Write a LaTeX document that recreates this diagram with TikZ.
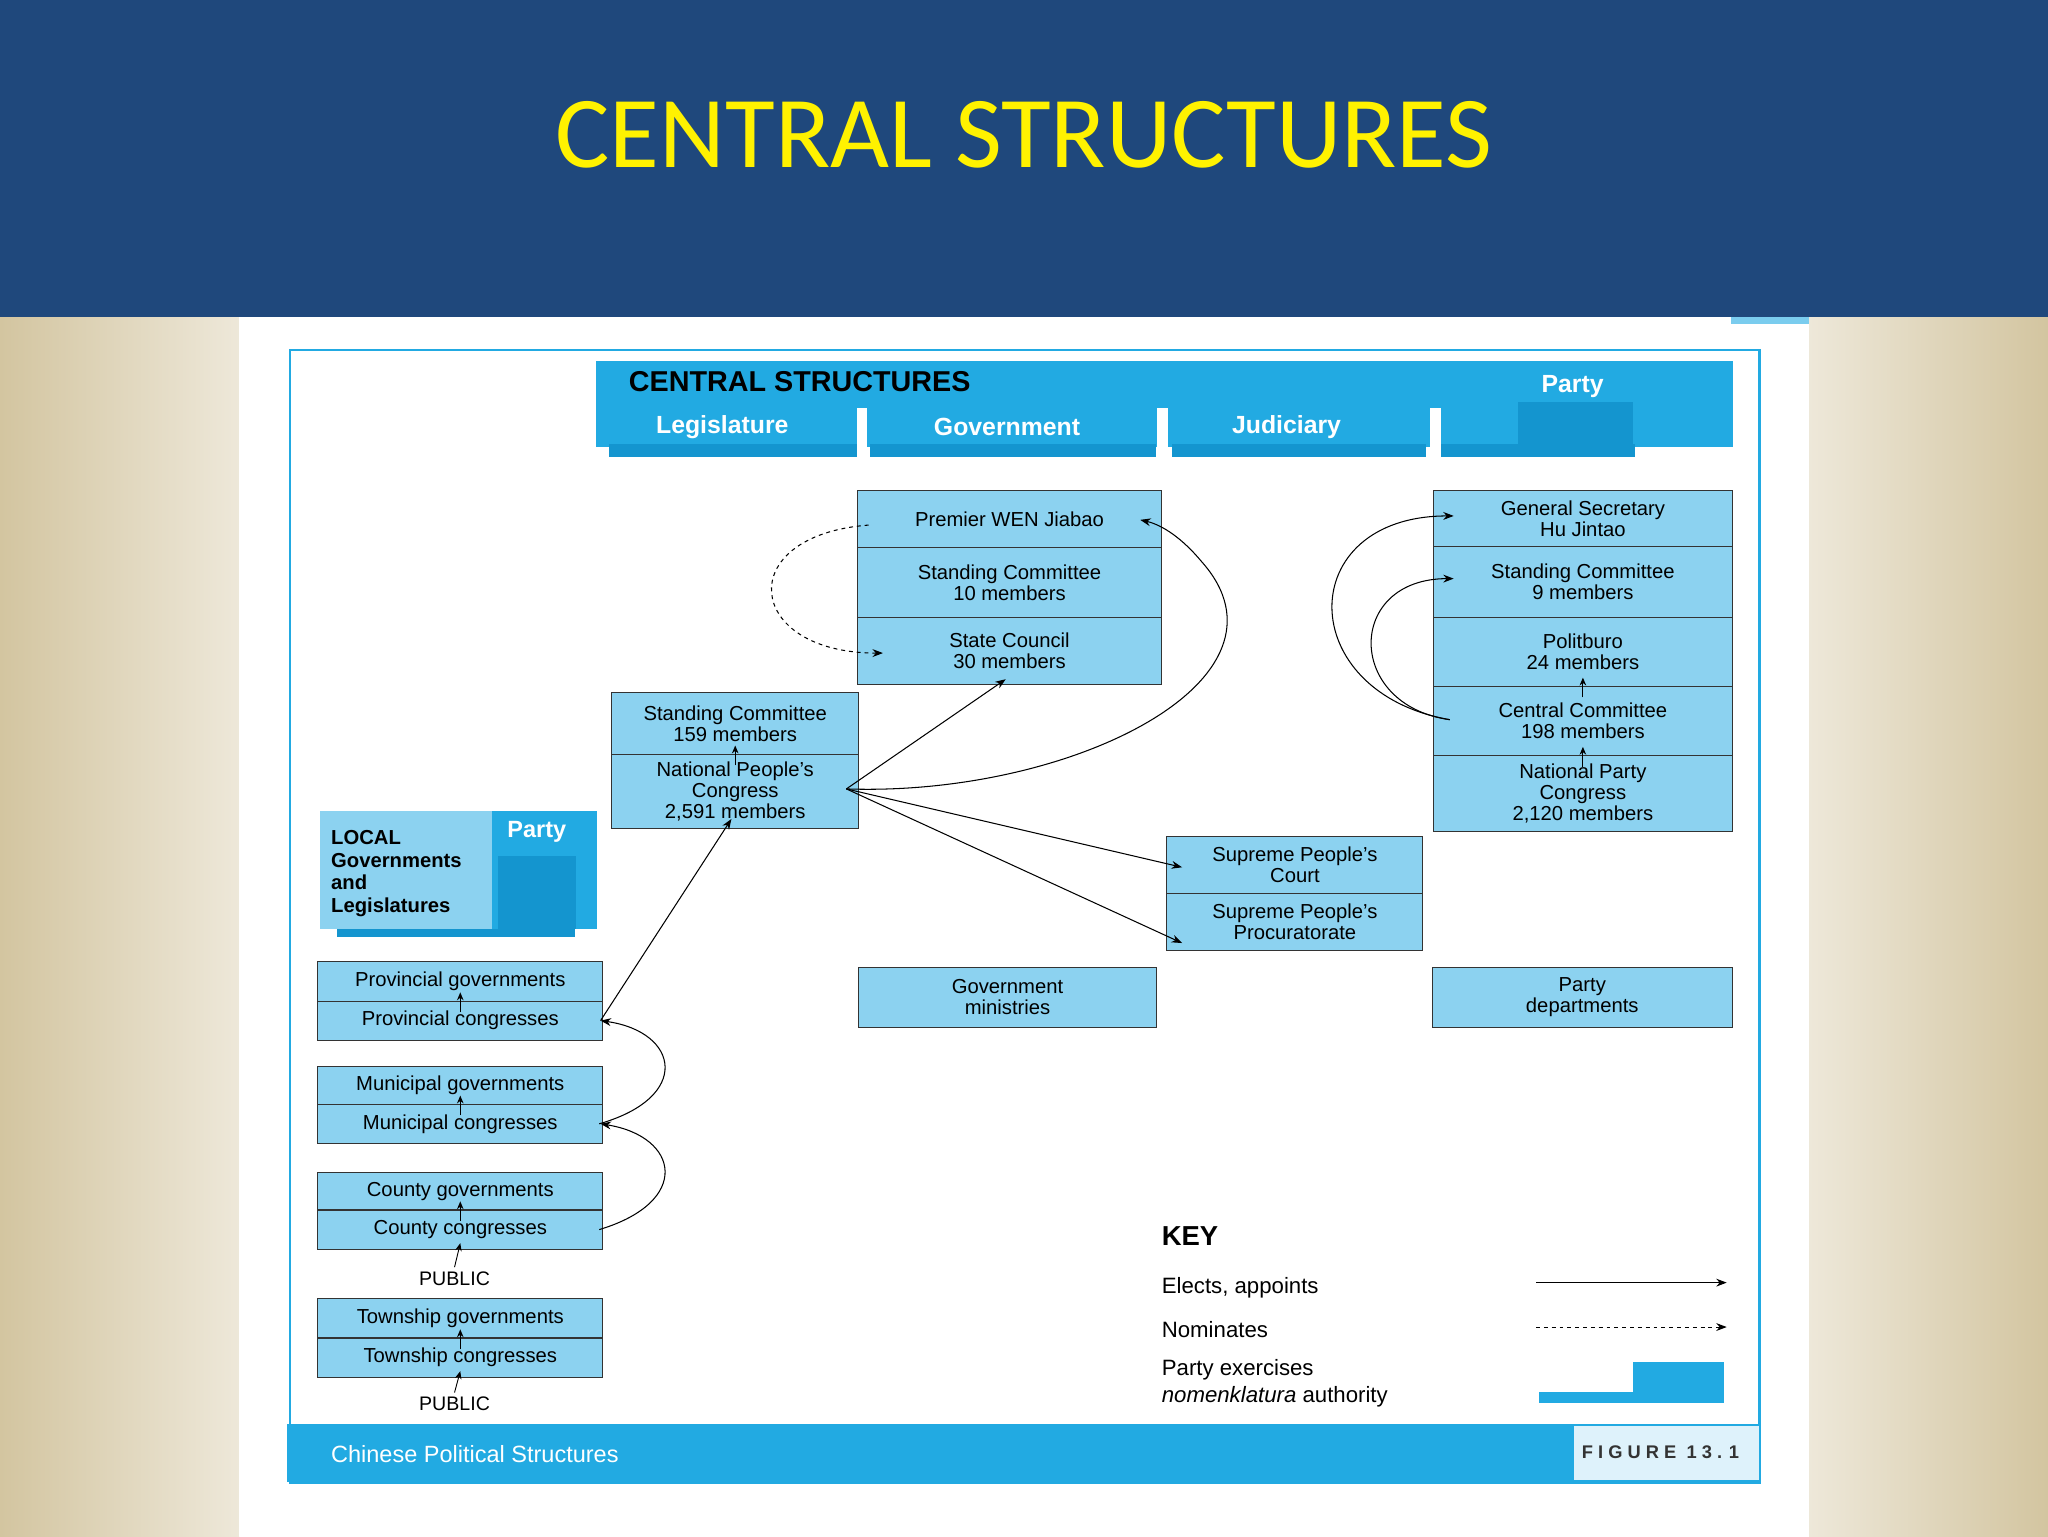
\documentclass[tikz,border=0pt]{standalone}
\usepackage{fontspec}
\setmainfont{Liberation Sans}
\newfontfamily\slidefont{Carlito}
\usetikzlibrary{arrows.meta,positioning}
\definecolor{banner}{HTML}{1F487C}
\definecolor{boxblue}{HTML}{8CD2F0}
\definecolor{bandblue}{HTML}{22AAE2}
\definecolor{darkband}{HTML}{1495CF}
\definecolor{beige}{HTML}{D3C5A0}
\tikzset{
  box/.style={draw=black!80, fill=boxblue, line width=0.8pt, inner sep=0pt, align=center,
    font=\fontsize{15.5}{16}\selectfont},
  tab/.style={fill=bandblue, inner sep=0pt, text=white, font=\bfseries\fontsize{19}{20}\selectfont},
  link/.style={-{Stealth[length=8pt,width=6pt]}, line width=0.8pt},
  tiny/.style={-{Stealth[length=6pt,width=5pt]}, line width=0.7pt},
}
\newcommand{\bx}[5]{% name, x1, y1, x2, y2
  \node[box, minimum width=#4pt-#2pt, minimum height=#5pt-#3pt, anchor=north west] (#1) at (#2,#3)}
\begin{document}
\begin{tikzpicture}[x=1pt,y=-1pt]
    \useasboundingbox (0,0) rectangle (1568,1176);
    % slide background
    \fill[banner] (0,0) rectangle (1568,243);
    \node[text=yellow, font=\slidefont\fontsize{78}{80}\selectfont] (title) at (784,103) {CENTRAL STRUCTURES};
    \shade[left color=beige, right color=beige!40] (0,243) rectangle (183,1176);
    \shade[left color=beige!40, right color=beige] (1385,243) rectangle (1568,1176);
    \fill[white] (183,243) rectangle (1385,1176);
    \fill[bandblue!60] (1325,243) rectangle (1385,248);
    \draw[bandblue, line width=2pt] (222,268) rectangle (1347,1135);
    % header bands
    \fill[bandblue] (456,276) rectangle (1327,342);
    \foreach \a/\b in {466/656,666/885,897/1092,1103/1252}
      \fill[darkband] (\a,340) rectangle (\b,350);
    \fill[darkband] (1162,308) rectangle (1250,350);
    \foreach \s in {660,890,1099}
      \fill[white] (\s-4,312) rectangle (\s+4,352);
    \node[anchor=west, font=\bfseries\fontsize{22}{24}\selectfont] (head) at (478,292) {CENTRAL STRUCTURES};
    \node[tab] (legis) at (553,327) {Legislature};
    \node[tab] (gov) at (771,327) {Government};
    \node[tab] (jud) at (985,327) {Judiciary};
    \node[tab] (party) at (1204,296) {Party};
    % government
    \bx{premier}{656}{375}{889}{419} {Premier WEN Jiabao};
    \bx{gsc}{656}{419}{889}{472} {Standing Committee\\10 members};
    \bx{council}{656}{472}{889}{524} {State Council\\30 members};
    % party
    \bx{gensec}{1097}{375}{1326}{418} {General Secretary\\Hu Jintao};
    \bx{psc}{1097}{418}{1326}{472} {Standing Committee\\9 members};
    \bx{polit}{1097}{472}{1326}{525} {Politburo\\24 members};
    \bx{cc}{1097}{525}{1326}{578} {Central Committee\\198 members};
    \bx{npcparty}{1097}{578}{1326}{636} {National Party\\Congress\\2,120 members};
    % legislature
    \bx{lsc}{468}{530}{657}{577} {Standing Committee\\159 members};
    \bx{npc}{468}{577}{657}{634} {National People's\\Congress\\2,591 members};
    % judiciary
    \bx{court}{893}{640}{1089}{684} {Supreme People's\\Court};
    \bx{procu}{893}{684}{1089}{727} {Supreme People's\\Procuratorate};
    \bx{minis}{657}{740}{885}{786} {Government\\ministries};
    \bx{depts}{1096}{740}{1326}{786} {Party\\departments};
    % local header
    \fill[darkband] (258,700) rectangle (440,717);
    \fill[boxblue] (245,621) rectangle (377,711);
    \fill[bandblue] (377,621) rectangle (457,711);
    \fill[darkband] (381,655) rectangle (441,711);
    \node[anchor=north west, align=left, font=\bfseries\fontsize{15.5}{17.5}\selectfont] (local) at (250,632)
      {LOCAL\\Governments\\and\\Legislatures};
    \node[text=white, font=\bfseries\fontsize{18}{20}\selectfont] (lparty) at (411,637) {Party};
    % local boxes
    \bx{provg}{243}{736}{461}{766} {Provincial governments};
    \bx{provc}{243}{766}{461}{796} {Provincial congresses};
    \bx{munig}{243}{816}{461}{845} {Municipal governments};
    \bx{munic}{243}{845}{461}{875} {Municipal congresses};
    \bx{coung}{243}{897}{461}{926} {County governments};
    \bx{counc}{243}{926}{461}{956} {County congresses};
    \bx{towng}{243}{994}{461}{1024} {Township governments};
    \bx{townc}{243}{1024}{461}{1054} {Township congresses};
    \node[font=\fontsize{15}{16}\selectfont] (pub1) at (348,979) {PUBLIC};
    \node[font=\fontsize{15}{16}\selectfont] (pub2) at (348,1075) {PUBLIC};
    % small upward arrows
    \foreach \lo/\hi in {provc/provg,munic/munig,counc/coung,townc/towng,npc/lsc,npcparty/cc,cc/polit}
      \draw[tiny] ([yshift=-9pt]\lo.north) -- ([yshift=7pt]\hi.south);
    \draw[tiny] (pub1.north) -- ([yshift=5pt]counc.south);
    \draw[tiny] (pub2.north) -- ([yshift=5pt]townc.south);
    % central links
    \coordinate (npcout) at (648,604);
    \draw[link] (npcout) -- (770,520);
    \draw[link] (npcout) .. controls (820,610) and (1000,520) .. (920,430) .. controls (905,412) and (890,402) .. (873,398);
    \draw[link] (npcout) -- (905,664);
    \draw[link] (npcout) -- (905,722);
    \draw[link, dashed] (665,402) .. controls (560,410) and (570,500) .. (676,500);
    \coordinate (ccout) at (1110,551);
    \draw[link] (ccout) .. controls (990,530) and (990,395) .. (1113,395);
    \draw[link] (ccout) .. controls (1030,540) and (1030,443) .. (1113,443);
    % local links
    \draw[link] (provc.east) ++(-2,0) -- (560,627);
    \draw[link] ([xshift=-3pt]munic.east) .. controls (530,840) and (520,790) .. ([xshift=-2pt]provc.east);
    \draw[link] ([xshift=-3pt]counc.east) .. controls (530,920) and (520,870) .. ([xshift=-2pt]munic.east);
    % bottom band
    \fill[bandblue] (220,1090) rectangle (1347,1135);
    \fill[white!85!bandblue] (1205,1092) rectangle (1347,1133);
    \node[anchor=west, text=white, font=\fontsize{18}{20}\selectfont] (caption) at (250,1113) {Chinese Political Structures};
    \node[anchor=east, text=black!80, font=\bfseries\fontsize{14}{16}\selectfont] (fig) at (1335,1112) {F I G U R E\ \ 1 3 . 1};
    % key
    \node[anchor=west, font=\bfseries\fontsize{21}{22}\selectfont] (key) at (886,946) {KEY};
    \node[anchor=west, font=\fontsize{17}{18}\selectfont] (kel) at (886,986) {Elects, appoints};
    \node[anchor=west, font=\fontsize{17}{18}\selectfont] (knom) at (886,1018) {Nominates};
    \node[anchor=west, align=left, font=\fontsize{17}{21}\selectfont] (kpar) at (886,1059) {Party exercises\\\textit{nomenklatura} authority};
    \coordinate (k1) at (1176,982); \coordinate (k1e) at (1322,982);
    \coordinate (k2) at (1176,1016); \coordinate (k2e) at (1322,1016);
    \draw[link] (k1) -- (k1e);
    \draw[link, dashed] (k2) -- (k2e);
    \fill[bandblue] (1178,1066) rectangle (1320,1074);
    \fill[bandblue] (1250,1043) rectangle (1320,1074);
\end{tikzpicture}
\end{document}
